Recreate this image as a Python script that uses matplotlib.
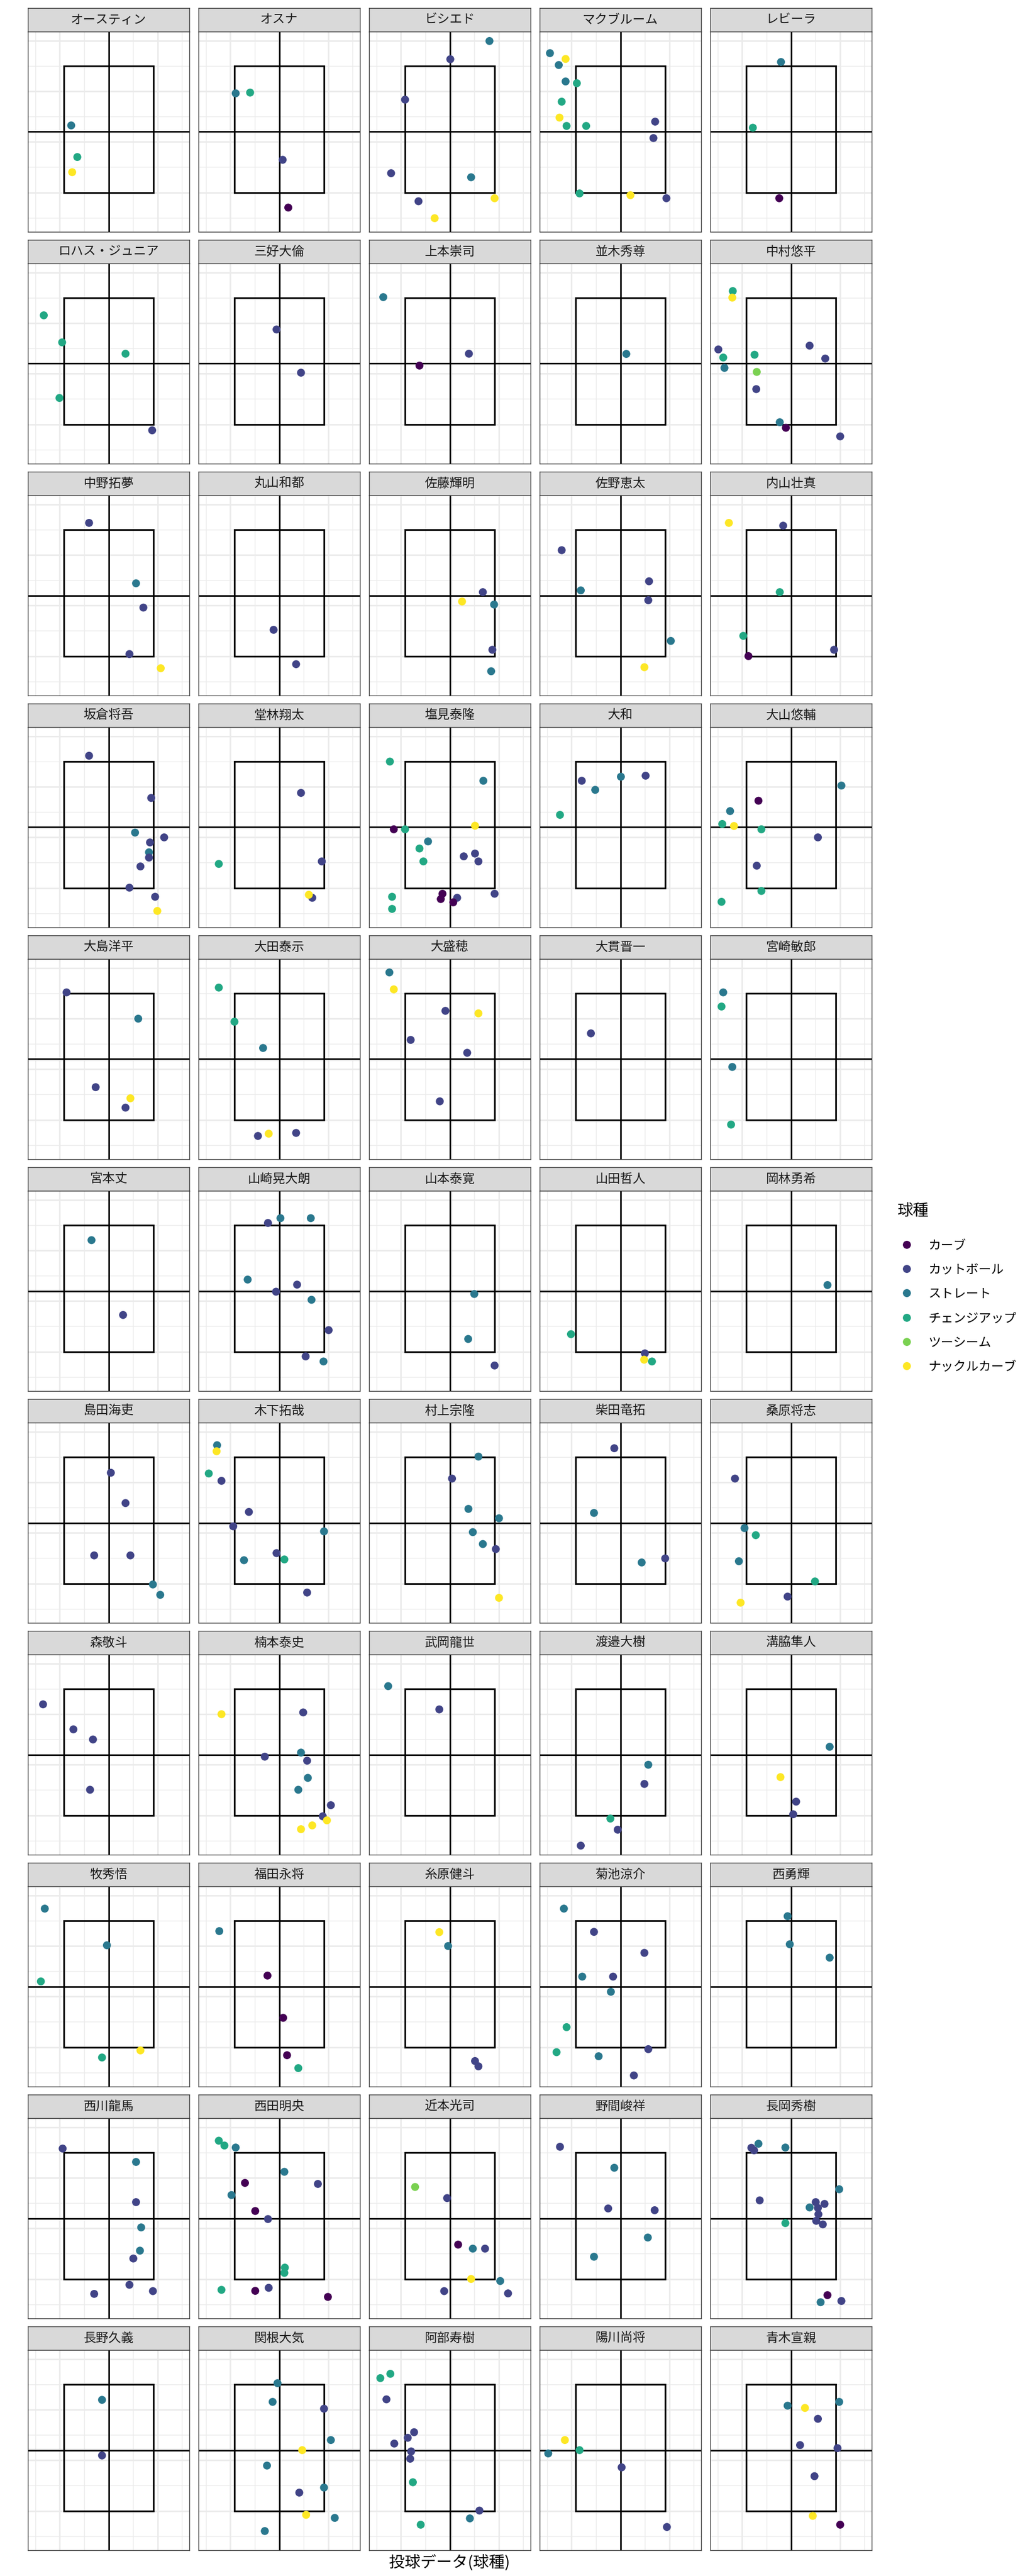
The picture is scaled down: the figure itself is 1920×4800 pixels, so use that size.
import matplotlib
matplotlib.use("Agg")
import matplotlib.pyplot as plt
from matplotlib.patches import Rectangle
from matplotlib.lines import Line2D

plt.rcParams['font.family'] = ['Noto Sans CJK JP', 'DejaVu Sans']

# ---- data -------------------------------------------------------------
pitch_types = ['カーブ', 'カットボール', 'ストレート', 'チェンジアップ', 'ツーシーム', 'ナックルカーブ']
pitch_colors = ['#440154', '#414487', '#2A788E', '#22A884', '#7AD151', '#FDE725']

batters = [
    'オースティン', 'オスナ', 'ビシエド', 'マクブルーム', 'レビーラ',
    'ロハス・ジュニア', '三好大倫', '上本崇司', '並木秀尊', '中村悠平',
    '中野拓夢', '丸山和都', '佐藤輝明', '佐野恵太', '内山壮真',
    '坂倉将吾', '堂林翔太', '塩見泰隆', '大和', '大山悠輔',
    '大島洋平', '大田泰示', '大盛穂', '大貫晋一', '宮崎敏郎',
    '宮本丈', '山崎晃大朗', '山本泰寛', '山田哲人', '岡林勇希',
    '島田海吏', '木下拓哉', '村上宗隆', '柴田竜拓', '桑原将志',
    '森敬斗', '楠本泰史', '武岡龍世', '渡邉大樹', '溝脇隼人',
    '牧秀悟', '福田永将', '糸原健斗', '菊池涼介', '西勇輝',
    '西川龍馬', '西田明央', '近本光司', '野間峻祥', '長岡秀樹',
    '長野久義', '関根大気', '阿部寿樹', '陽川尚将', '青木宣親',
]

# horizontal position of each pitch (one inner list per batter)
px = [
    [-1.53, -1.28, -1.49],
    [-1.78, -1.19, 0.14, 0.37],
    [1.62, 0.02, -1.83, -2.40, 0.87, -1.28, 1.83, -0.62],
    [-2.88, -2.24, -2.52, -2.24, -1.78, -2.40, -2.49, -2.20, -1.40, 1.42, 1.35, -1.67, 0.41, 1.88],
    [-0.41, -1.56, -0.48],
    [-2.65, -1.90, 0.69, -2.01, 1.78],
    [-0.11, 0.89],
    [-2.72, 0.78, -1.24],
    [0.23],
    [-2.38, -2.40, -2.97, -2.77, -1.49, 0.76, 1.40, -2.72, -1.40, -1.42, -0.46, -0.21, 2.01],
    [-0.80, 1.12, 1.42, 0.85, 2.13],
    [-0.23, 0.69],
    [1.35, 0.50, 1.81, 1.74, 1.69],
    [-2.40, 1.17, -1.62, 1.14, 2.06, 0.98],
    [-2.54, -0.32, -0.46, -1.95, 1.76, -1.74],
    [-0.80, 1.74, 1.08, 2.27, 1.69, 1.65, 1.65, 1.30, 0.85, 1.90, 1.99],
    [0.89, -2.47, 1.74, 1.35, 1.21],
    [-2.45, 1.37, 1.03, -2.29, -1.83, -0.89, -1.24, -1.08, 1.03, 0.57, 1.17, -2.36, -2.36, -0.30, -0.37, 0.30, 0.14, 1.83],
    [-1.58, 0.02, 1.03, -1.03, -2.47],
    [2.06, -1.33, -2.49, -2.81, -2.33, -1.21, 1.10, -1.40, -1.21, -2.84],
    [-1.72, 1.21, -0.53, 0.89, 0.69],
    [-2.47, -1.83, -0.66, -0.87, -0.43, 0.69],
    [-2.47, -2.29, -0.18, 1.17, -1.60, 0.71, -0.41],
    [-1.21],
    [-2.77, -2.84, -2.40, -2.45],
    [-0.70, 0.59],
    [0.05, 1.29, -0.46, -1.29, 0.73, -0.13, 1.32, 2.02, 1.08, 1.81],
    [1.00, 0.75, 1.83],
    [-2.02, 1.00, 0.97, 1.29],
    [1.48],
    [0.09, 0.69, -0.59, 0.89, 1.81, 2.11],
    [-2.54, -2.56, -2.88, -2.36, -1.24, -1.88, 1.83, -0.11, -1.44, 0.21, 1.14],
    [1.17, 0.09, 0.76, 2.01, 0.94, 1.35, 1.88, 2.01],
    [-0.25, -1.08, 1.83, 0.87],
    [-2.29, -1.90, -1.44, -2.13, 0.98, -0.14, -2.06],
    [-2.68, -1.44, -0.64, -0.76],
    [-2.36, 0.98, 0.89, -0.59, 1.14, 1.17, 0.78, 2.11, 1.78, 1.95, 1.35, 0.89],
    [-2.52, -0.43],
    [1.14, 0.98, -0.41, -0.11, -1.62],
    [1.58, -0.43, 0.21, 0.09],
    [-2.61, -0.07, -2.77, 1.30, -0.27],
    [-2.45, -0.48, 0.16, 0.32, 0.78],
    [-0.43, -0.07, 1.03, 1.17],
    [-2.31, -1.08, 0.98, -1.56, -0.30, -0.39, -2.20, -2.61, -0.89, 1.14, 0.55],
    [-0.14, -0.05, 1.58],
    [-1.88, 1.12, 1.12, 1.33, 1.28, 1.01, 0.85, 1.81, -0.59],
    [-2.47, -2.24, -1.78, 0.21, -1.40, 1.58, -1.95, -0.98, -0.46, 0.23, 0.21, -2.36, -0.98, -0.43, 1.99],
    [-1.42, -0.11, 0.34, 0.94, 1.44, 0.87, 2.06, -0.23, 2.38],
    [-2.47, -0.25, -0.50, 1.40, 1.12, -1.08],
    [-1.33, -1.62, -1.51, -0.23, 1.97, -1.28, 1.01, 1.37, 0.76, 1.10, 1.12, 1.03, 1.30, -0.23, 1.49, 1.21, 2.06],
    [-0.27, -0.27],
    [-0.07, -0.27, 1.83, 2.11, 0.94, -0.50, 1.83, 0.82, 1.10, 2.27, -0.59],
    [-2.43, -2.84, -2.59, -1.46, -1.72, -2.27, -1.58, -1.62, -1.51, 1.21, 0.82, -1.19],
    [-2.27, -1.67, -2.95, 0.05, 1.90],
    [1.97, -0.14, 0.57, 1.10, 0.37, 1.90, 0.96, 0.89, 2.01],
]

# height of each pitch
pz = [
    [2.65, 1.40, 0.80],
    [3.92, 3.95, 1.29, -0.60],
    [5.99, 5.27, 3.67, 0.76, 0.60, -0.35, -0.23, -1.02],
    [5.51, 5.28, 5.04, 4.39, 4.32, 3.59, 2.96, 2.63, 2.63, 2.80, 2.15, -0.04, -0.11, -0.23],
    [5.16, 2.56, -0.23],
    [4.31, 3.24, 2.79, 1.04, -0.24],
    [3.75, 2.04],
    [5.03, 2.79, 2.32],
    [2.79],
    [5.27, 5.01, 2.96, 2.64, 2.75, 3.11, 2.60, 2.23, 2.07, 1.39, 0.08, -0.14, -0.48],
    [5.27, 2.88, 1.92, 0.08, -0.48],
    [1.04, -0.32],
    [2.53, 2.16, 2.04, 0.25, -0.60],
    [4.19, 2.96, 2.60, 2.21, 0.60, -0.44],
    [5.27, 5.16, 2.53, 0.80, 0.25, 0.0],
    [5.23, 3.56, 2.19, 2.00, 1.80, 1.41, 1.20, 0.85, 0.01, -0.35, -0.91],
    [3.76, 0.95, 1.05, -0.39, -0.27],
    [5.0, 4.24, 2.46, 2.32, 2.32, 1.84, 1.56, 1.05, 1.36, 1.25, 1.05, -0.35, -0.83, -0.23, -0.44, -0.39, -0.57, -0.23],
    [4.24, 4.40, 4.44, 3.88, 2.89],
    [4.05, 3.45, 3.04, 2.53, 2.45, 2.32, 2.00, 0.88, -0.12, -0.55],
    [5.04, 4.0, 1.29, 0.85, 0.48],
    [5.23, 3.88, 2.84, -0.64, -0.55, -0.52],
    [5.83, 5.16, 4.31, 4.21, 3.16, 2.65, 0.73],
    [3.44],
    [5.04, 4.48, 2.09, -0.19],
    [4.41, 1.45],
    [5.28, 5.28, 5.09, 2.85, 2.65, 2.37, 2.05, 0.85, -0.19, -0.39],
    [2.28, 0.50, -0.55],
    [0.69, -0.07, -0.32, -0.39],
    [2.65],
    [4.38, 3.18, 1.11, 1.11, -0.04, -0.45],
    [5.47, 5.23, 4.35, 4.06, 2.83, 2.26, 2.06, 1.20, 0.92, 0.95, -0.36],
    [5.02, 4.15, 2.95, 2.58, 2.03, 1.56, 1.36, -0.57],
    [5.35, 2.79, 0.99, 0.83],
    [4.15, 2.19, 1.91, 0.88, 0.08, -0.52, -0.76],
    [4.39, 3.40, 3.0, 1.01],
    [4.0, 4.07, 2.48, 2.32, 2.16, 1.48, 1.01, 0.40, -0.04, -0.20, -0.40, -0.55],
    [5.11, 4.19],
    [2.0, 1.24, -0.13, -0.57, -1.20],
    [2.71, 1.51, 0.54, 0.04],
    [5.48, 4.03, 2.60, -0.13, -0.41],
    [4.59, 2.83, 1.16, -0.32, -0.83],
    [4.55, 4.0, -0.55, -0.76],
    [5.48, 4.56, 3.73, 2.79, 2.79, 2.19, 0.79, -0.20, -0.36, -0.08, -1.12],
    [5.18, 4.07, 3.54],
    [5.16, 4.63, 3.04, 2.04, 1.12, 0.81, -0.23, -0.48, -0.59],
    [5.47, 5.28, 5.20, 4.24, 3.80, 3.76, 3.32, 2.69, 2.37, 0.45, 0.24, -0.43, -0.47, -0.35, -0.71],
    [3.64, 3.20, 1.36, 1.20, 1.20, 0.0, -0.08, -0.48, -0.57],
    [5.23, 4.40, 2.79, 2.72, 1.64, 0.88],
    [5.35, 5.19, 5.09, 5.20, 3.55, 3.11, 3.04, 2.97, 2.83, 2.81, 2.56, 2.30, 2.16, 2.21, -0.64, -0.92, -0.87],
    [4.39, 2.19],
    [5.05, 4.31, 4.04, 2.80, 2.40, 1.79, 0.92, 0.72, -0.16, -0.28, -0.80],
    [5.42, 5.25, 4.41, 3.11, 2.89, 2.66, 2.35, 2.06, 1.13, 0.01, -0.30, -0.55],
    [2.80, 2.40, 2.27, 1.72, -0.64],
    [4.31, 4.16, 4.07, 3.64, 2.60, 2.48, 1.37, -0.20, -0.55],
]

# pitch type of each pitch (index into pitch_types)
ptype = [
    [2, 3, 5],
    [2, 3, 1, 0],
    [2, 1, 1, 1, 2, 1, 5, 5],
    [2, 5, 2, 2, 3, 3, 5, 3, 3, 1, 1, 3, 5, 1],
    [2, 3, 0],
    [3, 3, 3, 3, 1],
    [1, 1],
    [2, 1, 0],
    [2],
    [3, 5, 1, 3, 3, 1, 1, 2, 4, 1, 2, 0, 1],
    [1, 2, 1, 1, 5],
    [1, 1],
    [1, 5, 2, 1, 2],
    [1, 1, 2, 1, 2, 5],
    [5, 1, 3, 3, 1, 0],
    [1, 1, 2, 1, 1, 2, 1, 1, 1, 1, 5],
    [1, 3, 1, 1, 5],
    [3, 2, 5, 0, 3, 2, 3, 3, 1, 1, 1, 3, 3, 0, 0, 1, 0, 1],
    [1, 2, 1, 2, 3],
    [2, 0, 2, 3, 5, 3, 1, 1, 3, 3],
    [1, 2, 1, 5, 1],
    [3, 3, 2, 1, 5, 1],
    [2, 5, 1, 5, 1, 1, 1],
    [1],
    [2, 3, 2, 3],
    [2, 1],
    [2, 2, 1, 2, 1, 1, 2, 1, 1, 2],
    [2, 2, 1],
    [3, 1, 5, 3],
    [2],
    [1, 1, 1, 1, 2, 2],
    [2, 5, 3, 1, 1, 1, 2, 1, 2, 3, 1],
    [2, 1, 2, 2, 2, 2, 1, 5],
    [1, 2, 1, 2],
    [1, 2, 3, 2, 3, 1, 5],
    [1, 1, 1, 1],
    [5, 1, 2, 1, 1, 2, 2, 1, 1, 5, 5, 5],
    [2, 1],
    [2, 1, 3, 1, 1],
    [2, 5, 1, 1],
    [2, 2, 3, 5, 3],
    [2, 0, 0, 0, 3],
    [5, 2, 1, 1],
    [2, 1, 1, 2, 1, 2, 3, 3, 2, 1, 1],
    [2, 2, 2],
    [1, 2, 1, 2, 2, 1, 1, 1, 1],
    [3, 3, 2, 2, 0, 1, 2, 0, 1, 3, 3, 3, 0, 1, 0],
    [4, 1, 0, 2, 1, 5, 2, 1, 1],
    [1, 2, 1, 1, 2, 2],
    [2, 1, 1, 2, 2, 1, 1, 1, 2, 1, 1, 1, 1, 3, 0, 2, 1],
    [2, 1],
    [2, 2, 1, 2, 5, 2, 2, 1, 5, 2, 2],
    [3, 3, 1, 1, 1, 1, 1, 1, 3, 1, 2, 3],
    [5, 3, 2, 1, 1],
    [2, 2, 5, 1, 1, 1, 1, 5, 0],
]

# strike zone and reference lines
zone_x = (-1.82, 1.82)
zone_z = (0.0, 5.0)
mid_z = 2.4

# ---- layout (pixels) --------------------------------------------------
W, H = 1920, 4800
fig = plt.figure(figsize=(10, 25), dpi=192)

ncol = 5
left0, col_step, pw = 52, 318, 301
top0, row_step, strip_h, ph = 15, 432, 44, 373


def fbox(x, y, w, h):
    # pixel box (top-left origin) -> figure fraction
    return [x / W, 1 - (y + h) / H, w / W, h / H]


for i, name in enumerate(batters):
    r, c = divmod(i, ncol)
    x0 = left0 + c * col_step
    y0 = top0 + r * row_step

    # strip
    sax = fig.add_axes(fbox(x0, y0, pw, strip_h))
    sax.set_facecolor('#D9D9D9')
    sax.set_xticks([])
    sax.set_yticks([])
    for s in sax.spines.values():
        s.set_color('#333333')
        s.set_linewidth(0.5)
    sax.text(0.5, 0.5, name, ha='center', va='center', fontsize=8.8, color='#1A1A1A',
             transform=sax.transAxes)

    ax = fig.add_axes(fbox(x0, y0 + strip_h, pw, ph))
    ax.set_xlim(-3.3, 3.3)
    ax.set_ylim(-1.56, 6.36)
    ax.set_xticks([])
    ax.set_yticks([])
    for s in ax.spines.values():
        s.set_color('#333333')
        s.set_linewidth(0.5)

    for g in [-3, -1, 1, 3]:
        ax.axvline(g, color='#EBEBEB', lw=0.55, zorder=0)
    for g in [-2, 0, 2]:
        ax.axvline(g, color='#EBEBEB', lw=1.07, zorder=0)
    for g in [-1, 1, 3, 5]:
        ax.axhline(g, color='#EBEBEB', lw=0.55, zorder=0)
    for g in [0, 2, 4, 6]:
        ax.axhline(g, color='#EBEBEB', lw=1.07, zorder=0)

    ax.add_patch(Rectangle((zone_x[0], zone_z[0]), zone_x[1] - zone_x[0], zone_z[1] - zone_z[0],
                           fill=False, edgecolor='black', lw=1.2, zorder=2))
    ax.axvline(0, color='black', lw=1.1, zorder=2)
    ax.axhline(mid_z, color='black', lw=1.1, zorder=2)

    cols = [pitch_colors[t] for t in ptype[i]]
    ax.scatter(px[i], pz[i], s=31, c=cols, linewidths=0, zorder=3)

# legend
handles = [Line2D([], [], marker='o', linestyle='none', markersize=5.6,
                  markerfacecolor=col, markeredgewidth=0) for col in pitch_colors]
leg = fig.legend(handles, pitch_types, title='球種', loc='center left',
                 bbox_to_anchor=(1672 / W, 0.5), frameon=False, fontsize=8.8,
                 title_fontsize=11, handlelength=1.5, handletextpad=1.0,
                 labelspacing=0.95, borderpad=0, borderaxespad=0, alignment='left')
leg._legend_box.sep = 14

fig.text(838 / W, 1 - 4776 / H, '投球データ(球種)', ha='center', va='center', fontsize=11)

fig.savefig('out.png', dpi=192, facecolor='white')
